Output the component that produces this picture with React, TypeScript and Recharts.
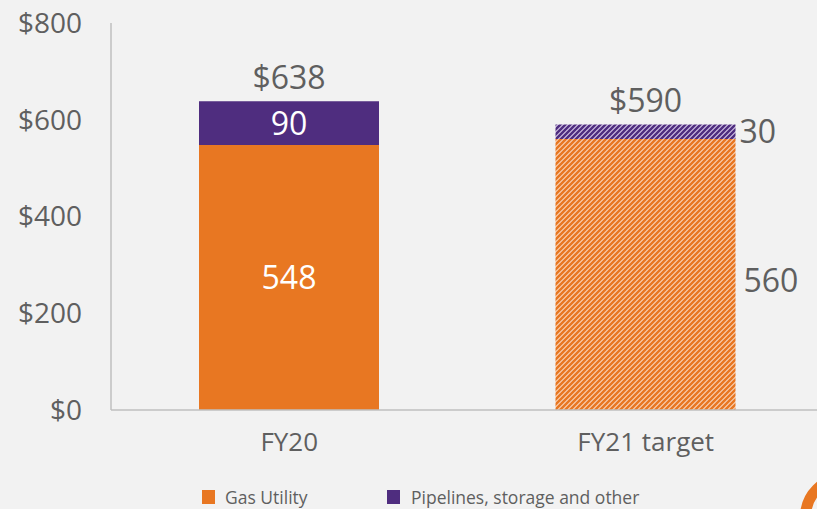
import React from 'react';
import { BarChart, Bar, XAxis, YAxis, LabelList, Cell } from 'recharts';

const categories = ['FY20', 'FY21 target'];
const gasUtility = [548, 560];
const pipelines = [90, 30];
const totals = [638, 590];
const yTicks = [0, 200, 400, 600, 800];
const seriesNames = ['Gas Utility', 'Pipelines, storage and other'];

const ORANGE = '#E87722';
const PURPLE = '#4F2D7F';
const GRAY = '#5F5F5F';
const FONT = '"Open Sans", sans-serif';
const LABEL_SIZE = 32;

const data = categories.map((c, i) => ({
  name: c,
  gas: gasUtility[i],
  pipe: pipelines[i],
  total: totals[i],
}));

const GasLabel = (props: any) => {
  const { x, y, width, height, value, index } = props;
  if (index === 0) {
    return (
      <text x={x + width / 2} y={y + height / 2} dy="0.36em" textAnchor="middle" fill="#ffffff" fontSize={LABEL_SIZE} fontFamily={FONT}>
        {value}
      </text>
    );
  }
  return (
    <text x={x + width + 8} y={y + height / 2 + 6} dy="0.36em" textAnchor="start" fill={GRAY} fontSize={LABEL_SIZE} fontFamily={FONT}>
      {value}
    </text>
  );
};

const PipeLabel = (props: any) => {
  const { x, y, width, height, value, index } = props;
  if (index === 0) {
    return (
      <text x={x + width / 2} y={y + height / 2} dy="0.36em" textAnchor="middle" fill="#ffffff" fontSize={LABEL_SIZE} fontFamily={FONT}>
        {value}
      </text>
    );
  }
  return (
    <text x={x + width + 4} y={y + height / 2} dy="0.36em" textAnchor="start" fill={GRAY} fontSize={LABEL_SIZE} fontFamily={FONT}>
      {value}
    </text>
  );
};

const TotalLabel = (props: any) => {
  const { x, y, width, index } = props;
  return (
    <text x={x + width / 2} y={y - 24} dy="0.36em" textAnchor="middle" fill={GRAY} fontSize={LABEL_SIZE} fontFamily={FONT}>
      {'$' + totals[index]}
    </text>
  );
};

export default function App() {
  return (
    <div style={{ position: 'fixed', left: 0, top: 0, width: 817, height: 509, overflow: 'hidden', background: '#F2F2F2', fontFamily: FONT }}>
      <BarChart width={830} height={509} data={data} margin={{ top: 23, right: 6, left: 0, bottom: 0 }} barSize={180}>
        <defs>
          <pattern id="hatchOrange" patternUnits="userSpaceOnUse" width="5" height="5">
            <rect width="5" height="5" fill="#FBD8BE" />
            <path d="M-1,1 l2,-2 M0,5 l5,-5 M4,6 l2,-2" stroke={ORANGE} strokeWidth={2.5} />
          </pattern>
          <pattern id="hatchPurple" patternUnits="userSpaceOnUse" width="5" height="5">
            <rect width="5" height="5" fill="#D9CCEB" />
            <path d="M-1,1 l2,-2 M0,5 l5,-5 M4,6 l2,-2" stroke={PURPLE} strokeWidth={2.5} />
          </pattern>
        </defs>
        <XAxis
          dataKey="name"
          height={99}
          tickLine={false}
          tickSize={6}
          tickMargin={17}
          axisLine={{ stroke: '#BFBFBF', strokeWidth: 1.5 }}
          tick={{ fill: GRAY, fontSize: 26, fontFamily: FONT }}
        />
        <YAxis
          width={111}
          domain={[0, 800]}
          ticks={yTicks}
          tickLine={false}
          tickSize={6}
          tickMargin={23}
          axisLine={{ stroke: '#BFBFBF', strokeWidth: 1.5 }}
          tick={{ fill: GRAY, fontSize: 28, fontFamily: FONT }}
          tickFormatter={(v: number) => '$' + v}
          interval={0}
        />
        <Bar dataKey="gas" stackId="a" fill={ORANGE} isAnimationActive={false}>
          {data.map((d, i) => (
            <Cell key={d.name} fill={i === 1 ? 'url(#hatchOrange)' : ORANGE} />
          ))}
          <LabelList dataKey="gas" content={<GasLabel />} />
        </Bar>
        <Bar dataKey="pipe" stackId="a" fill={PURPLE} isAnimationActive={false}>
          {data.map((d, i) => (
            <Cell key={d.name} fill={i === 1 ? 'url(#hatchPurple)' : PURPLE} />
          ))}
          <LabelList dataKey="pipe" content={<PipeLabel />} />
          <LabelList dataKey="total" content={<TotalLabel />} />
        </Bar>
      </BarChart>
      <div style={{ position: 'absolute', left: 202, top: 485, display: 'flex', alignItems: 'center', fontSize: 17.5, color: GRAY, whiteSpace: 'nowrap' }}>
        <span style={{ display: 'inline-block', width: 13, height: 14, background: ORANGE, marginRight: 10 }} />
        <span style={{ width: 162 }}>{seriesNames[0]}</span>
        <span style={{ display: 'inline-block', width: 13, height: 14, background: PURPLE, marginRight: 11 }} />
        <span>{seriesNames[1]}</span>
      </div>
      <div style={{ position: 'absolute', left: 800, top: 472, width: 90, height: 90, boxSizing: 'border-box', border: '11px solid ' + ORANGE, borderRadius: '50%' }} />
    </div>
  );
}
